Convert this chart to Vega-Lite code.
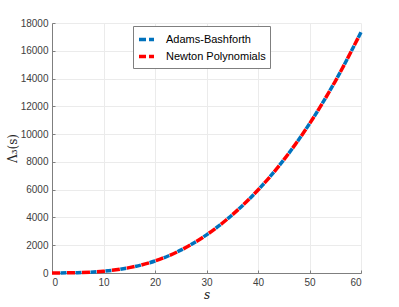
{
  "$schema": "https://vega.github.io/schema/vega-lite/v6.json",
  "width": 309,
  "height": 250,
  "autosize": "none",
  "padding": {"left": 52, "top": 23, "right": 38, "bottom": 34},
  "background": "white",
  "config": {
    "view": {"stroke": null},
    "font": "Liberation Sans",
    "axis": {
      "gridColor": "#ebebeb",
      "gridWidth": 1,
      "domainColor": "#7f7f7f",
      "tickColor": "#7f7f7f",
      "tickSize": -3,
      "labelPadding": 7,
      "labelColor": "#404040",
      "labelFontSize": 10,
      "labelFont": "Liberation Sans",
      "titleFont": "DejaVu Serif",
      "titleFontWeight": "normal",
      "titleColor": "#262626"
    }
  },
  "data": {
    "values": [
      {"s": 0, "v": 0, "m": "Adams-Bashforth"},
      {"s": 5, "v": 25, "m": "Adams-Bashforth"},
      {"s": 10, "v": 125, "m": "Adams-Bashforth"},
      {"s": 15, "v": 385, "m": "Adams-Bashforth"},
      {"s": 20, "v": 865, "m": "Adams-Bashforth"},
      {"s": 25, "v": 1645, "m": "Adams-Bashforth"},
      {"s": 30, "v": 2745, "m": "Adams-Bashforth"},
      {"s": 35, "v": 4185, "m": "Adams-Bashforth"},
      {"s": 40, "v": 5975, "m": "Adams-Bashforth"},
      {"s": 45, "v": 8145, "m": "Adams-Bashforth"},
      {"s": 50, "v": 10745, "m": "Adams-Bashforth"},
      {"s": 55, "v": 13805, "m": "Adams-Bashforth"},
      {"s": 60, "v": 17335, "m": "Adams-Bashforth"},
      {"s": 0, "v": 0, "m": "Newton Polynomials"},
      {"s": 5, "v": 25, "m": "Newton Polynomials"},
      {"s": 10, "v": 125, "m": "Newton Polynomials"},
      {"s": 15, "v": 385, "m": "Newton Polynomials"},
      {"s": 20, "v": 865, "m": "Newton Polynomials"},
      {"s": 25, "v": 1645, "m": "Newton Polynomials"},
      {"s": 30, "v": 2745, "m": "Newton Polynomials"},
      {"s": 35, "v": 4185, "m": "Newton Polynomials"},
      {"s": 40, "v": 5975, "m": "Newton Polynomials"},
      {"s": 45, "v": 8145, "m": "Newton Polynomials"},
      {"s": 50, "v": 10745, "m": "Newton Polynomials"},
      {"s": 55, "v": 13805, "m": "Newton Polynomials"},
      {"s": 60, "v": 17335, "m": "Newton Polynomials"}
    ]
  },
  "encoding": {
    "x": {
      "field": "s", "type": "quantitative",
      "scale": {"domain": [0, 60], "nice": false},
      "axis": {"values": [0, 10, 20, 30, 40, 50, 60], "format": "d", "title": "s", "titleFontStyle": "italic", "titleFontSize": 12, "titlePadding": 2}
    },
    "y": {
      "field": "v", "type": "quantitative",
      "scale": {"domain": [0, 18000], "nice": false},
      "axis": {"values": [0, 2000, 4000, 6000, 8000, 10000, 12000, 14000, 16000, 18000], "format": "d", "title": "Λ₃(s)", "titleFontSize": 12, "titlePadding": 1}
    },
    "color": {
      "field": "m", "type": "nominal",
      "scale": {"domain": ["Adams-Bashforth", "Newton Polynomials"], "range": ["#0072BD", "#FF0000"]},
      "legend": {
        "title": null,
        "orient": "none",
        "legendX": 81,
        "legendY": 3,
        "symbolType": "stroke",
        "symbolStrokeWidth": 3.5,
        "symbolSize": 225,
        "symbolDash": [7, 3],
        "labelFontSize": 11,
        "labelFont": "Liberation Sans",
        "labelColor": "#000000",
        "labelOffset": 10,
        "padding": 4,
        "rowPadding": -1,
        "strokeColor": "#7f7f7f",
        "fillColor": "white"
      }
    }
  },
  "layer": [
    {
      "transform": [{"filter": "datum.m == 'Adams-Bashforth'"}],
      "mark": {"type": "line", "strokeWidth": 3.5, "strokeDash": [6, 9], "strokeDashOffset": 6.5, "interpolate": "monotone"}
    },
    {
      "transform": [{"filter": "datum.m == 'Newton Polynomials'"}],
      "mark": {"type": "line", "strokeWidth": 3.5, "strokeDash": [8, 7], "interpolate": "monotone"}
    }
  ]
}
